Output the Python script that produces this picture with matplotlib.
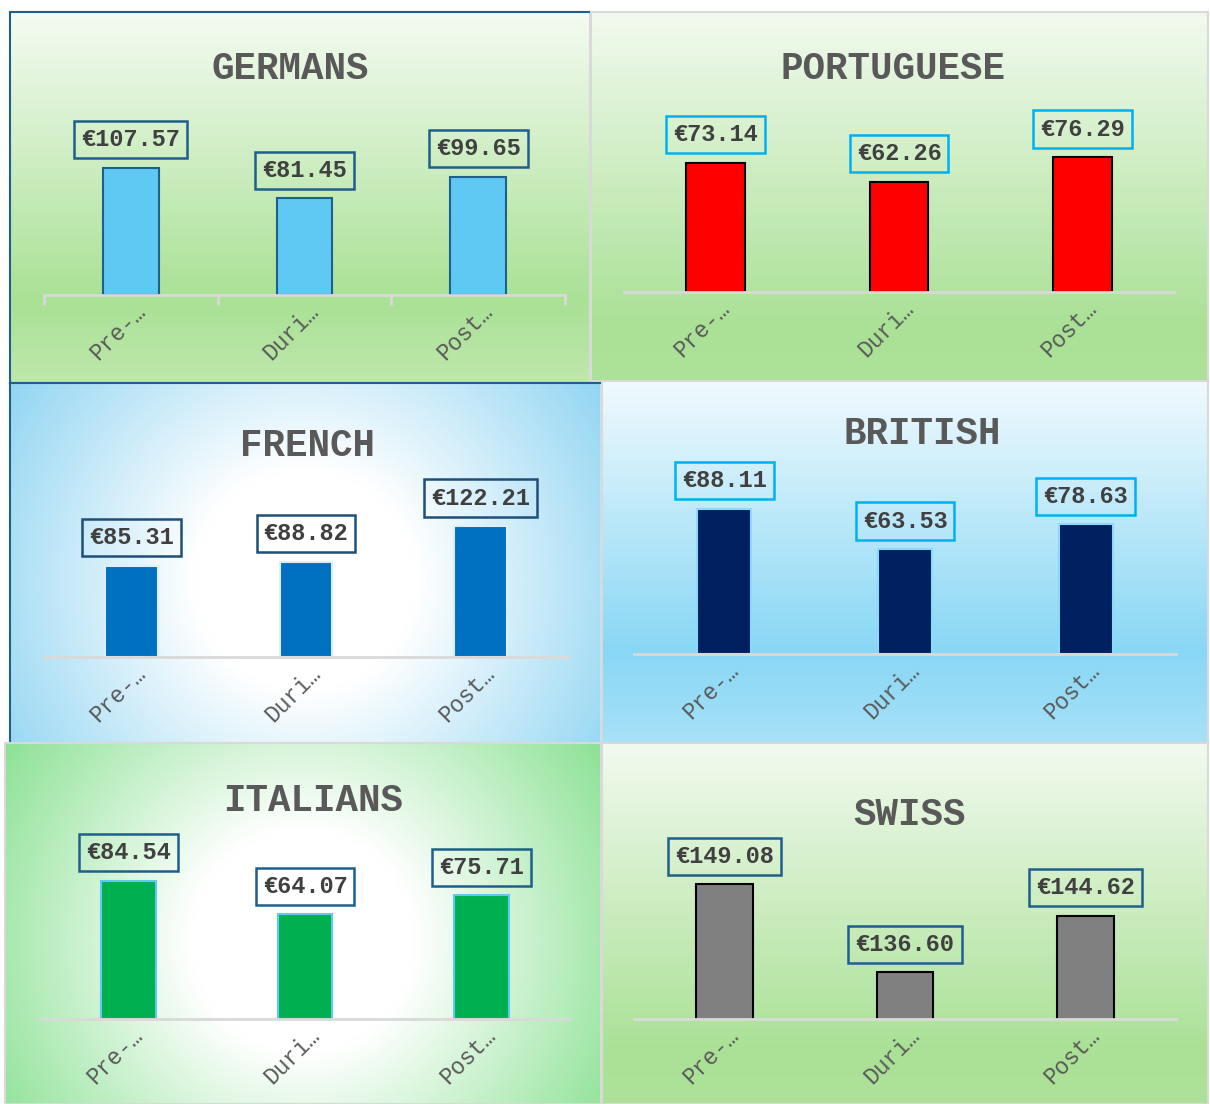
import matplotlib
matplotlib.use('Agg')
import matplotlib.pyplot as plt
import numpy as np
from matplotlib.colors import to_rgb

# Average spend per nationality, by period
periods = ['Pre-…', 'Duri…', 'Post…']
germans = [107.57, 81.45, 99.65]
portuguese = [73.14, 62.26, 76.29]
french = [85.31, 88.82, 122.21]
british = [88.11, 63.53, 78.63]
italians = [84.54, 64.07, 75.71]
swiss = [149.08, 136.60, 144.62]

W, H = 1210, 1104
FONT = 'Liberation Mono'
TXT = '#595959'

fig = plt.figure(figsize=(W / 100, H / 100), dpi=100)
fig.patch.set_facecolor('white')


def frac(x0, y0, x1, y1):
    return [x0 / W, 1 - y1 / H, (x1 - x0) / W, (y1 - y0) / H]


def linear_grad(stops, n=300):
    t = np.linspace(0, 1, n)
    pos = [s[0] for s in stops]
    cols = np.array([to_rgb(s[1]) for s in stops])
    img = np.stack([np.interp(t, pos, cols[:, c]) for c in range(3)], axis=-1)
    return img[:, None, :]


def radial_grad(stops, w, h, cy=0.5):
    xs = np.linspace(-1, 1, 200)
    ys = np.linspace(0, 1, 200) - cy
    X, Y = np.meshgrid(xs, ys * 2 * h / w)
    r = np.clip(np.sqrt(X ** 2 + Y ** 2) / 1.25, 0, 1)
    pos = [s[0] for s in stops]
    cols = np.array([to_rgb(s[1]) for s in stops])
    return np.stack([np.interp(r, pos, cols[:, c]) for c in range(3)], axis=-1)


green_lin = [(0, '#F5FBF2'), (0.78, '#A9E195'), (1, '#BFE8AD')]
green_lin2 = [(0, '#F2FAEF'), (0.85, '#AAE196'), (1, '#AEE29A')]
blue_lin = [(0, '#F1FAFE'), (0.75, '#88D7F5'), (1, '#A8E1F8')]
blue_rad = [(0, '#FFFFFF'), (0.3, '#FFFFFF'), (1, '#8CD3F2')]
green_rad = [(0, '#FFFFFF'), (0.3, '#FFFFFF'), (1, '#86E08F')]

# panel rect (px), axis x-range (px), baseline px, px per unit, ymin
panels = [
    dict(title='GERMANS', vals=germans, rect=(10, 12, 590, 383), ax=(44, 565), base=295, k=1.185, ymin=0,
         bg=('lin', green_lin), fc='#5FC9F3', ec='#1F5F8B', box='#1F5F8B', tpos=(290, 69), ticks=True,
         border={'left': '#1F5F8B', 'top': '#1F5F8B', 'bottom': '#1F5F8B', 'right': '#D9D9D9'}, bw=0.32),
    dict(title='PORTUGUESE', vals=portuguese, rect=(591, 12, 1208, 381), ax=(624, 1174), base=292, k=1.767, ymin=0,
         bg=('lin', green_lin2), fc='#FF0000', ec='#000000', box='#00B0F0', tpos=(893, 69), ticks=False,
         border={s: '#D9D9D9' for s in ['left', 'top', 'bottom', 'right']}, bw=0.32),
    dict(title='FRENCH', vals=french, rect=(10, 383, 601, 743), ax=(44, 568), base=657, k=1.07, ymin=0,
         bg=('rad', blue_rad), fc='#0070C0', ec='#DDEEFF', box='#1F4E79', tpos=(308, 446), ticks=False,
         border={'left': '#1F5F8B', 'top': '#1F5F8B', 'bottom': '#BFE3F5', 'right': '#BFE3F5'}, bw=0.30),
    dict(title='BRITISH', vals=british, rect=(602, 381, 1208, 743), ax=(634, 1176), base=654, k=1.65, ymin=0,
         bg=('lin', blue_lin), fc='#002060', ec='#8ED8F8', box='#00B0F0', tpos=(922, 434), ticks=False,
         border={s: '#D9D9D9' for s in ['left', 'top', 'bottom', 'right']}, bw=0.30),
    dict(title='ITALIANS', vals=italians, rect=(5, 743, 601, 1104), ax=(40, 570), base=1019, k=1.632, ymin=0,
         bg=('rad', green_rad), fc='#00B050', ec='#5FC9F3', box='#1F5F8B', tpos=(313, 801), ticks=False,
         border={s: '#D9D9D9' for s in ['left', 'top', 'bottom', 'right']}, bw=0.31),
    dict(title='SWISS', vals=swiss, rect=(602, 743, 1208, 1104), ax=(634, 1176), base=1019, k=7.05, ymin=130,
         bg=('lin', green_lin2), fc='#808080', ec='#000000', box='#1F5F8B', tpos=(910, 815), ticks=False,
         border={s: '#D9D9D9' for s in ['left', 'top', 'bottom', 'right']}, bw=0.315),
]

AX_H = 190  # px height of plotting area above baseline

for p in panels:
    x0, y0, x1, y1 = p['rect']
    bg = fig.add_axes(frac(x0, y0, x1, y1), zorder=0)
    kind, stops = p['bg']
    if kind == 'lin':
        img = linear_grad(stops)
    else:
        img = radial_grad(stops, x1 - x0, y1 - y0, cy=0.55)
    bg.imshow(img, aspect='auto', extent=[0, 1, 0, 1], interpolation='bilinear')
    bg.set_xticks([])
    bg.set_yticks([])
    for side, col in p['border'].items():
        bg.spines[side].set_color(col)
        bg.spines[side].set_linewidth(1.5)

    ax0, ax1 = p['ax']
    ax = fig.add_axes(frac(ax0, p['base'] - AX_H, ax1, p['base']), zorder=1)
    ax.patch.set_alpha(0)
    ymax = p['ymin'] + AX_H / p['k']
    x = np.arange(len(periods))
    ax.bar(x, p['vals'], width=p['bw'], color=p['fc'], edgecolor=p['ec'], linewidth=1.5, zorder=3)
    ax.set_xlim(-0.5, 2.5)
    ax.set_ylim(p['ymin'], ymax)
    for s in ['left', 'right', 'top']:
        ax.spines[s].set_visible(False)
    ax.spines['bottom'].set_color('#D9D9D9')
    ax.spines['bottom'].set_linewidth(2)
    ax.spines['bottom'].set_zorder(4)
    ax.set_yticks([])
    ax.set_xticks(x)
    ax.set_xticklabels([])
    ax.tick_params(axis='x', which='major', length=0)
    if p['ticks']:
        ax.set_xticks([-0.5, 0.5, 1.5, 2.5], minor=True)
        ax.tick_params(axis='x', which='minor', length=7, width=2, color='#D9D9D9')

    # rotated category labels under the baseline
    for xi, name in zip(x, periods):
        ax.annotate(name, (xi, 0), xycoords=ax.get_xaxis_transform(), xytext=(11, -13),
                    textcoords='offset pixels', rotation=45, ha='right', va='center',
                    rotation_mode='anchor', fontfamily=FONT, fontsize=16.5, color=TXT,
                    annotation_clip=False)

    for xi, v in zip(x, p['vals']):
        ax.annotate(f'€{v:.2f}', (xi, v), xytext=(0, 12), textcoords='offset points',
                    ha='center', va='bottom', fontfamily=FONT, fontweight='bold', fontsize=17,
                    color='#404040', zorder=5,
                    bbox=dict(boxstyle='square,pad=0.3', fc='none', ec=p['box'], lw=1.8))

    tx, ty = p['tpos']
    fig.text(tx / W, 1 - ty / H, p['title'], ha='center', va='center', fontfamily=FONT,
             fontweight='bold', fontsize=27, color=TXT, zorder=5)

fig.savefig('out.png', dpi=100)
